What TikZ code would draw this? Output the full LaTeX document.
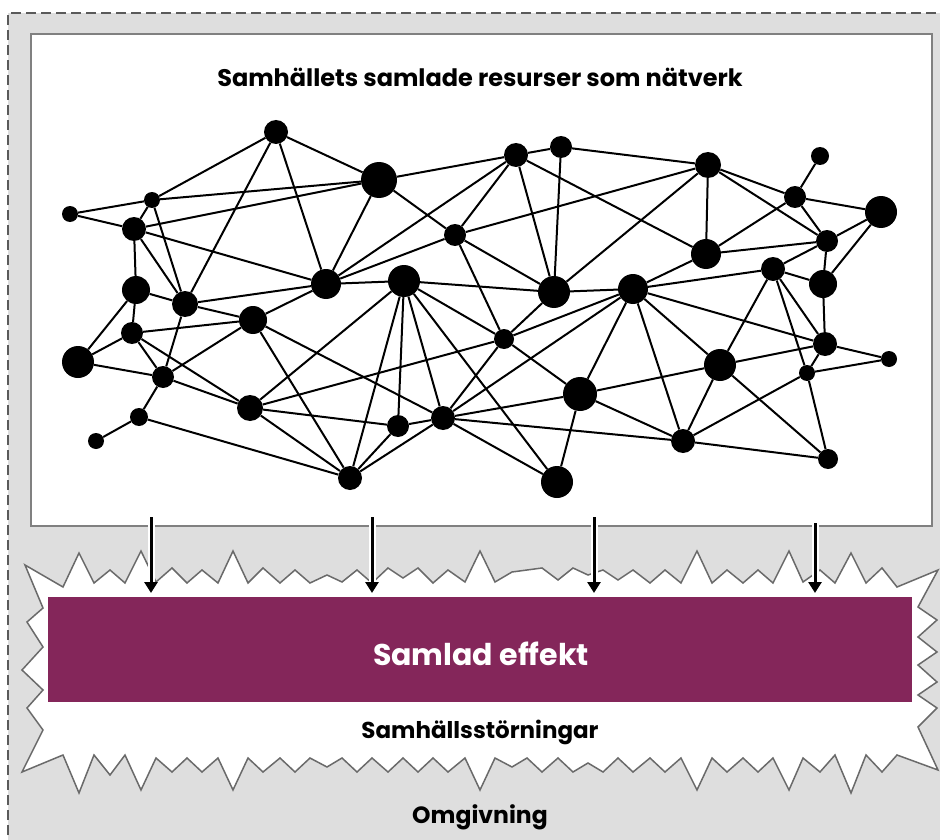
\documentclass[tikz,border=0pt]{standalone}
\usepackage{fontspec}
\setmainfont{Poppins}
\usetikzlibrary{arrows.meta}
\definecolor{bggray}{HTML}{DEDEDE}
\definecolor{dashgray}{HTML}{5A5A5A}
\definecolor{boxgray}{HTML}{808080}
\definecolor{burstgray}{HTML}{6A6A6A}
\definecolor{plum}{HTML}{84265A}
\tikzset{
  dot/.style={circle, fill=black, inner sep=0pt, minimum size=#1},
  edge/.style={line width=2pt, black},
  halo/.style={line width=7pt, white},
  downarrow/.style={line width=3pt, black, -{Triangle[length=11pt,width=13pt]}},
  lbl/.style={anchor=base, inner sep=0pt, font=\bfseries}
}
\begin{document}
\begin{tikzpicture}[x=1pt,y=-1pt]
\useasboundingbox (0,0) rectangle (940,840);
% outer environment
\fill[bggray] (8,13) rectangle (950,850);
\draw[dashgray, line width=2pt, dash pattern=on 10pt off 5pt] (8,850) -- (8,13) -- (950,13);
% network box
\node[draw=boxgray, line width=2.2pt, fill=white, minimum width=901pt, minimum height=492pt, anchor=north west, inner sep=0pt] (netbox) at (30,33) {};
\node[lbl, font=\bfseries\fontsize{24}{28}\selectfont] (title) at (480,87) {Samhällets samlade resurser som nätverk};
% nodes
\foreach \i/\x/\y/\r in {
1/276/132/12, 2/152/200/8, 3/70/214/8, 4/134/229/12, 5/379/180/18,
6/516/155/12, 7/561/147/11, 8/708/165/13, 9/820/156/9, 10/795/197/11,
11/881/212/16, 12/455/235/11, 13/827/241/11, 14/706/254/15, 15/773/269/12,
16/823/284/14, 17/136/290/14, 18/185/304/13, 19/326/284/15, 20/404/281/16,
21/554/292/16, 22/633/289/15, 23/132/333/11, 24/253/320/14, 25/504/339/10,
26/825/344/12, 27/78/362/16, 28/889/359/8, 29/720/365/16, 30/807/373/8,
31/163/377/11, 32/580/394/17, 33/250/408/13, 34/139/417/9, 35/96/441/8,
36/443/418/12, 37/398/426/11, 38/683/441/12, 39/828/459/10, 40/350/478/12,
41/557/482/16}
  \node[dot=2*\r pt] (n\i) at (\x,\y) {};
% edges
\foreach \a/\b in {
1/2, 1/5, 1/18, 1/19,
2/3, 2/4, 2/5, 2/18,
3/4,
4/5, 4/17, 4/18, 4/19,
5/6, 5/12, 5/19,
6/7, 6/12, 6/14, 6/19, 6/21,
7/8, 7/21,
8/10, 8/12, 8/13, 8/14, 8/21,
9/10,
10/11, 10/13, 10/14,
11/13, 11/16,
12/19, 12/21, 12/25,
13/14, 13/15, 13/16,
14/22,
15/16, 15/22, 15/26, 15/29, 15/30,
16/26,
17/18, 17/23, 17/27,
18/19, 18/24, 18/31,
19/20, 19/24,
20/21, 20/25, 20/33, 20/36, 20/37, 20/40, 20/41,
21/22, 21/25,
22/25, 22/26, 22/29, 22/32, 22/36, 22/38,
23/24, 23/27, 23/31, 23/33,
24/31, 24/36, 24/40,
25/32, 25/33, 25/36,
26/28, 26/29, 26/30,
27/31,
28/30,
29/32, 29/38, 29/39,
30/38, 30/39,
31/33, 31/34,
32/36, 32/38, 32/41,
33/37, 33/40,
34/35, 34/40,
36/37, 36/38, 36/40, 36/41,
37/40,
38/39}
  \draw[edge] (n\a) -- (n\b);
% disturbance burst
\draw[burstgray, line width=1.5pt, fill=white, line join=miter]
 (25,565) -- (63,587) -- (79,553) -- (94,583) -- (110,570) -- (125,583) -- (141,551) -- (156,582) -- (172,568) -- (187,583) -- (202,570) -- (218,583) -- (233,551) -- (248,583) -- (263,568) -- (280,583) -- (295,570) -- (310,583) -- (327,575) -- (342,582) -- (357,570) -- (372,583) -- (388,568) -- (403,578) -- (418,568) -- (433,583) -- (448,570) -- (465,582) -- (480,551) -- (495,582) -- (512,572) -- (527,570) -- (542,568) -- (558,580) -- (573,568) -- (588,575) -- (603,570) -- (618,580) -- (633,570) -- (650,583) -- (665,570) -- (681,583) -- (697,551) -- (712,583) -- (727,570) -- (743,583) -- (758,570) -- (773,583) -- (789,551) -- (803,582) -- (820,570) -- (835,583) -- (851,553) -- (866,583) -- (882,568) -- (897,587) -- (938,570)
 -- (918,607) -- (937,620) -- (918,637) -- (937,652) -- (918,665) -- (937,682) -- (918,695) -- (937,708) -- (918,727) -- (938,770)
 -- (897,755) -- (882,772) -- (866,755) -- (851,793) -- (835,755) -- (820,772) -- (803,758) -- (789,790) -- (773,758) -- (758,772) -- (743,758) -- (727,772) -- (712,758) -- (697,790) -- (681,758) -- (665,772) -- (650,758) -- (633,772) -- (618,758) -- (603,772) -- (588,763) -- (573,772) -- (558,758) -- (542,772) -- (527,758) -- (512,767) -- (495,758) -- (480,790) -- (465,758) -- (448,772) -- (433,758) -- (418,772) -- (403,758) -- (388,772) -- (372,758) -- (357,772) -- (342,758) -- (327,767) -- (310,758) -- (295,772) -- (280,758) -- (263,772) -- (248,758) -- (233,790) -- (218,758) -- (202,772) -- (187,758) -- (172,772) -- (156,758) -- (141,790) -- (125,755) -- (110,775) -- (94,755) -- (79,793) -- (63,755) -- (22,772)
 -- (43,730) -- (27,708) -- (43,690) -- (22,670) -- (43,647) -- (27,622) -- (43,608) -- cycle;
% effect bar
\node[fill=plum, minimum width=864pt, minimum height=105pt, anchor=north west, inner sep=0pt] (effect) at (48,597) {};
\node[lbl, white, font=\bfseries\fontsize{30}{35}\selectfont] (efftext) at (481,665) {Samlad effekt};
\node[lbl, font=\bfseries\fontsize{23}{27}\selectfont] (dist) at (480,738) {Samhällsstörningar};
\node[lbl, font=\bfseries\fontsize{23.5}{27}\selectfont] (env) at (480,823) {Omgivning};
% arrows
\foreach \k/\x/\s in {1/151/517, 2/372/517, 3/594/517, 4/815/523} {
  \coordinate (as\k) at (\x,\s);
  \coordinate (ae\k) at (\x,593);
  \coordinate (ah\k) at (\x,584);
  \draw[halo] (as\k) -- (ah\k);
  \draw[downarrow] (as\k) -- (ae\k);
}
\end{tikzpicture}
\end{document}
